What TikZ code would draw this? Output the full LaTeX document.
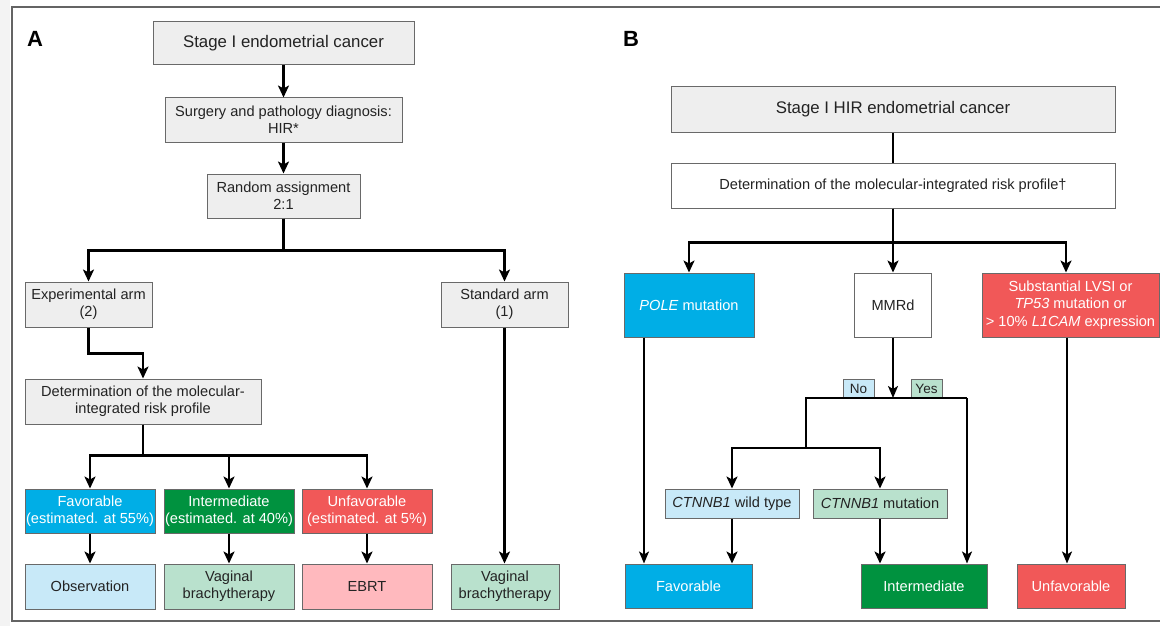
\documentclass[tikz,border=0pt]{standalone}
\usepackage{fontspec}
\setmainfont{Liberation Sans}
\usetikzlibrary{arrows.meta}

\definecolor{txt}{RGB}{35,35,35}
\definecolor{bd}{RGB}{105,105,105}
\definecolor{frm}{RGB}{100,100,100}
\definecolor{boxgray}{RGB}{238,238,238}
\definecolor{cyanF}{RGB}{0,174,230}
\definecolor{greenI}{RGB}{0,146,63}
\definecolor{redU}{RGB}{241,88,88}
\definecolor{ltblue}{RGB}{200,233,248}
\definecolor{mint}{RGB}{185,225,205}
\definecolor{pink}{RGB}{255,185,190}
\definecolor{strip}{RGB}{243,243,243}

\newcommand\fbody{\fontsize{14.6}{17.3}\selectfont}
\newcommand\fhead{\fontsize{16.8}{19}\selectfont}
\newcommand\fsmall{\fontsize{13.5}{15}\selectfont}

\tikzset{
  box/.style={draw=bd, line width=1pt, inner sep=0pt, align=center,
              text=txt, font=\fbody},
  greybox/.style={box, fill=boxgray},
  whitebox/.style={box, fill=white},
  favbox/.style={box, fill=cyanF, text=white},
  intbox/.style={box, fill=greenI, text=white},
  unfbox/.style={box, fill=redU, text=white},
  bluebox/.style={box, fill=ltblue},
  mintbox/.style={box, fill=mint},
  pinkbox/.style={box, fill=pink},
  tag/.style={box, font=\fsmall},
  link/.style={line width=2.8pt, line join=miter},
  arr/.style={link, -{Stealth[length=12pt,width=11pt,inset=3pt]}},
  tlink/.style={line width=1.8pt, line join=miter},
  tarr/.style={tlink, -{Stealth[length=12pt,width=10pt,inset=3pt]}},
  panel/.style={font=\fontsize{22}{24}\selectfont\bfseries, text=black, inner sep=0pt}
}

\begin{document}
\begin{tikzpicture}[x=1pt,y=-1pt]
\useasboundingbox (0,0) rectangle (1160,626);
\fill[white] (0,0) rectangle (1160,626);
\fill[strip] (0,0) rectangle (10,626);

% outer frame (open on the right)
\draw[frm, line width=2pt] (1160,7) -- (11.5,7) -- (11.5,621) -- (1160,621);

% ---------------- Panel A ----------------
\node[panel] (labA) at (35,39) {A};

\node[greybox, minimum width=261pt, minimum height=43pt] (stageA) at (283.5,43.5)
  {\fhead Stage I endometrial cancer};
\node[greybox, minimum width=237pt, minimum height=44pt] (surg) at (283.5,120)
  {Surgery and pathology diagnosis:\\HIR*};
\node[greybox, minimum width=153pt, minimum height=44pt] (rand) at (283.5,196)
  {Random assignment\\2:1};

\node[greybox, minimum width=127pt, minimum height=45pt] (expA) at (88.5,304.5)
  {Experimental arm\\(2)};
\node[greybox, minimum width=127pt, minimum height=45pt] (stdA) at (504.5,304.5)
  {Standard arm\\(1)};

\node[greybox, minimum width=236pt, minimum height=45pt] (detA) at (143,401.5)
  {Determination of the molecular-\\integrated risk profile};

\node[favbox, minimum width=130pt, minimum height=44pt] (favA) at (90,511)
  {Favorable\\(estimated. at 55\%)};
\node[intbox, minimum width=130pt, minimum height=44pt] (intA) at (229,511)
  {Intermediate\\(estimated. at 40\%)};
\node[unfbox, minimum width=130pt, minimum height=44pt] (unfA) at (367,511)
  {Unfavorable\\(estimated. at 5\%)};

\node[bluebox, minimum width=130pt, minimum height=45pt] (obs) at (90,586.5)
  {Observation};
\node[mintbox, minimum width=130pt, minimum height=45pt] (vbA) at (229,586.5)
  {Vaginal\\brachytherapy};
\node[pinkbox, minimum width=130pt, minimum height=45pt] (ebrt) at (367,586.5)
  {EBRT};
\node[mintbox, minimum width=108pt, minimum height=45pt] (vbB) at (505,586.5)
  {Vaginal\\brachytherapy};

\draw[arr] (stageA) -- (surg);
\draw[arr] (surg) -- (rand);
\draw[arr] (rand.south) -- ++(0,32) -| (expA.north);
\draw[arr] (rand.south) -- ++(0,32) -| (stdA.north);
\draw[arr] (expA.south) -- ++(0,26) -| (detA.north);
\draw[arr] (detA.south) -- ++(0,31) -| (favA.north);
\draw[arr] (detA.south) -- ++(0,31) -| (intA.north);
\draw[arr] (detA.south) -- ++(0,31) -| (unfA.north);
\draw[arr] (favA) -- (obs);
\draw[arr] (intA) -- (vbA);
\draw[arr] (unfA) -- (ebrt);
\draw[arr] (stdA.south) -- (vbB.north -| stdA.south);

% ---------------- Panel B ----------------
\node[panel] (labB) at (631,39) {B};

\node[greybox, minimum width=444pt, minimum height=45pt] (stageB) at (893,109.5)
  {\fhead Stage I HIR endometrial cancer};
\node[whitebox, minimum width=444pt, minimum height=45pt] (detB) at (893,185.5)
  {Determination of the molecular-integrated risk profile†};

\node[favbox, minimum width=130pt, minimum height=64pt] (pole) at (689,305)
  {\textit{POLE} mutation};
\node[whitebox, minimum width=77pt, minimum height=64pt] (mmr) at (893,305)
  {MMRd};
\node[unfbox, minimum width=177pt, minimum height=64pt] (hir) at (1070.5,305)
  {Substantial LVSI or\\\textit{TP53} mutation or\\> 10\% \textit{L1CAM} expression};

\node[tag, fill=ltblue, minimum width=31pt, minimum height=19pt] (no) at (858.5,388.5) {No};
\node[tag, fill=mint, minimum width=31pt, minimum height=19pt] (yes) at (926.5,388.5) {Yes};

\node[bluebox, minimum width=134pt, minimum height=29pt] (ctwt) at (732,503.5)
  {\textit{CTNNB1} wild type};
\node[mintbox, minimum width=134pt, minimum height=29pt] (ctmut) at (880,503.5)
  {\textit{CTNNB1} mutation};

\node[favbox, minimum width=127pt, minimum height=44pt] (favB) at (688.5,586)
  {Favorable};
\node[intbox, minimum width=126pt, minimum height=44pt] (intB) at (924,586)
  {Intermediate};
\node[unfbox, minimum width=108pt, minimum height=44pt] (unfB) at (1071,586)
  {Unfavorable};

\coordinate (split) at (893,398);

\draw[link] (stageB) -- (detB);
\draw[arr] (detB.south) -- ++(0,34) -| (pole.north);
\draw[arr] (detB.south) -- (mmr.north);
\draw[arr] (detB.south) -- ++(0,34) -| (hir.north -| 1066,0);

\draw[tarr] (mmr.south) -- (split);
\draw[link] (split) -- (806,398) -- (806,448);
\draw[tlink] (split) -- (967,398);
\draw[arr] (806,448) -| (ctwt.north);
\draw[arr] (806,448) -| (ctmut.north);

\draw[tarr] (pole.south -| 644,0) -- (favB.north -| 644,0);
\draw[arr] (ctwt.south) -- (favB.north -| ctwt.south);
\draw[arr] (ctmut.south) -- (intB.north -| ctmut.south);
\draw[tarr] (967,398) -- (intB.north -| 967,0);
\draw[tarr] (hir.south -| 1067,0) -- (unfB.north -| 1067,0);
\end{tikzpicture}
\end{document}
